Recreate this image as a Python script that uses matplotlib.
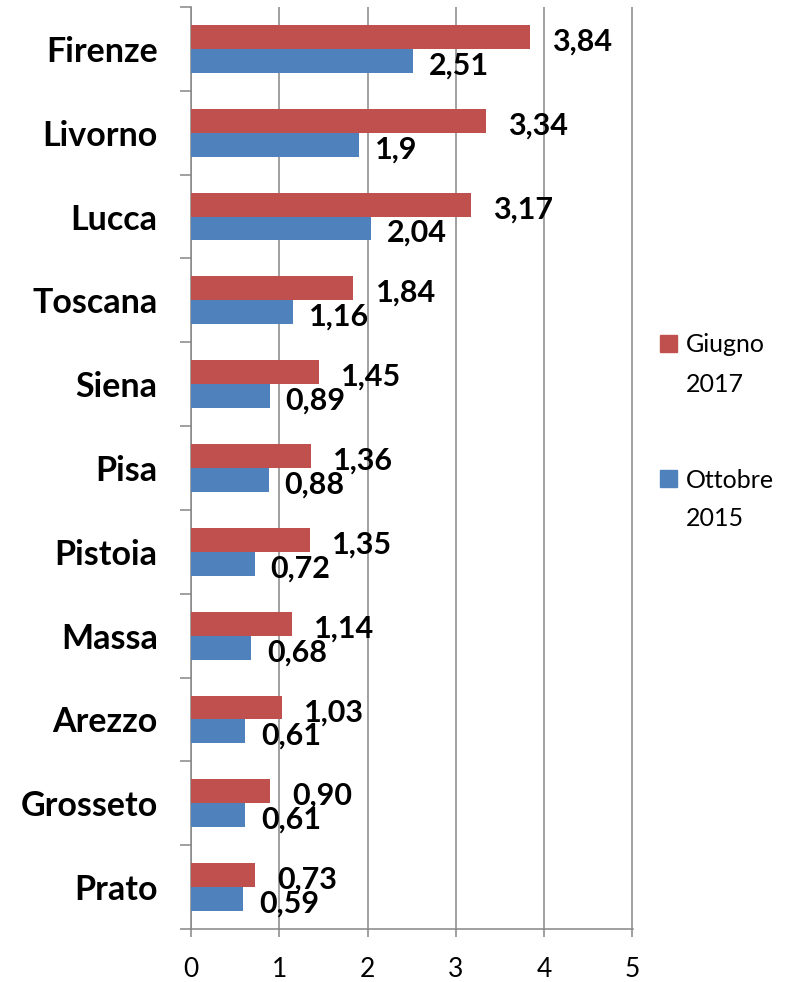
import matplotlib
matplotlib.use('Agg')
import matplotlib.pyplot as plt
import numpy as np
from matplotlib.patches import Rectangle

categories = ["Firenze", "Livorno", "Lucca", "Toscana", "Siena", "Pisa",
              "Pistoia", "Massa", "Arezzo", "Grosseto", "Prato"]
giugno_2017 = [3.84, 3.34, 3.17, 1.84, 1.45, 1.36, 1.35, 1.14, 1.03, 0.90, 0.73]
ottobre_2015 = [2.51, 1.9, 2.04, 1.16, 0.89, 0.88, 0.72, 0.68, 0.61, 0.61, 0.59]
giugno_labels = ["3,84", "3,34", "3,17", "1,84", "1,45", "1,36", "1,35", "1,14", "1,03", "0,90", "0,73"]
ottobre_labels = ["2,51", "1,9", "2,04", "1,16", "0,89", "0,88", "0,72", "0,68", "0,61", "0,61", "0,59"]
series_names = [("Giugno", "2017"), ("Ottobre", "2015")]
x_ticks = [0, 1, 2, 3, 4, 5]

FONT = "Lato"
RED = "#C0504D"
BLUE = "#4F81BD"
GRAY = "#868686"

W, H = 804, 982
fig = plt.figure(figsize=(W / 100, H / 100), dpi=100)
ax = fig.add_axes([191 / W, 1 - 929 / H, 442 / W, 922 / H])

n = len(categories)
pos = np.arange(n)[::-1]
h = 0.285
ax.barh(pos + h / 2, giugno_2017, height=h, color=RED, zorder=3)
ax.barh(pos - h / 2, ottobre_2015, height=h, color=BLUE, zorder=3)

ax.set_xlim(0, 5.006)
ax.set_ylim(-0.5, n - 0.5)
ax.set_xticks(x_ticks)
ax.set_xticklabels([str(t) for t in x_ticks], fontsize=19, family=FONT)
ax.grid(axis='x', color=GRAY, lw=1.1, zorder=0)
ax.set_axisbelow(True)

# category boundaries as major ticks, names on minor ticks
ax.set_yticks(np.arange(-0.5, n, 1.0))
ax.set_yticklabels([])
ax.set_yticks(pos, minor=True)
ax.set_yticklabels(categories, minor=True, fontsize=24.5, fontweight='bold', family=FONT)
ax.tick_params(axis='y', which='major', length=8, width=1.1, color=GRAY, direction='out')
ax.tick_params(axis='y', which='minor', length=0, pad=24)
ax.tick_params(axis='x', length=6, width=1.1, color=GRAY, direction='out', pad=14.5)

for s in ['top', 'right']:
    ax.spines[s].set_visible(False)
for s in ['left', 'bottom']:
    ax.spines[s].set_color(GRAY)
    ax.spines[s].set_linewidth(1.1)

for y, v, lbl in zip(pos, giugno_2017, giugno_labels):
    ax.annotate(lbl, xy=(v, y + h / 2), xytext=(16, -1.5), textcoords='offset points',
                ha='left', va='center_baseline', fontsize=22, fontweight='bold',
                family=FONT, zorder=5, annotation_clip=False)
for y, v, lbl in zip(pos, ottobre_2015, ottobre_labels):
    ax.annotate(lbl, xy=(v, y - h / 2), xytext=(11.5, -1.5), textcoords='offset points',
                ha='left', va='center_baseline', fontsize=22, fontweight='bold',
                family=FONT, zorder=5, annotation_clip=False)

# legend
leg_y = [343, 478]
for (l1, l2), col, yc in zip(series_names, [RED, BLUE], leg_y):
    fig.add_artist(Rectangle((660 / W, 1 - (yc + 8.5) / H), 17 / W, 17 / H,
                             transform=fig.transFigure, color=col))
    fig.text(686 / W, 1 - yc / H, l1, fontsize=18, family=FONT,
             ha='left', va='center_baseline')
    fig.text(686 / W, 1 - (yc + 39) / H, l2, fontsize=18, family=FONT,
             ha='left', va='center_baseline')

fig.savefig("out.png", dpi=100)
